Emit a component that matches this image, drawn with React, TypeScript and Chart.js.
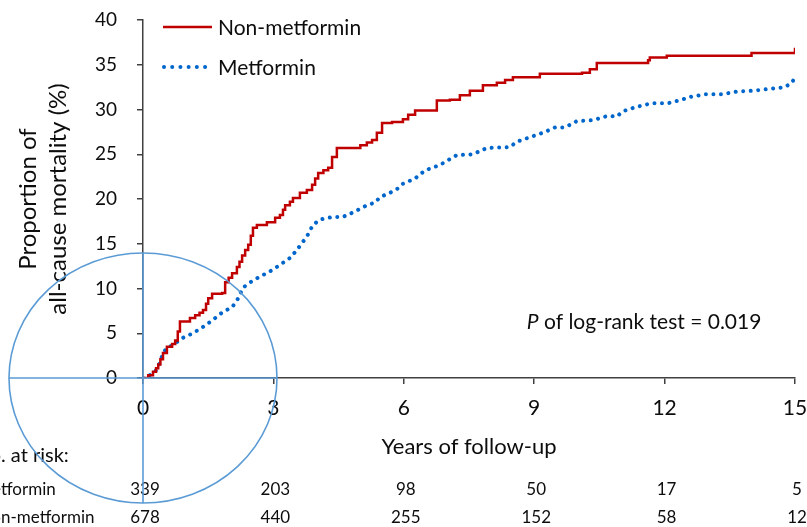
import React, { useEffect, useRef } from 'react';
import { Chart, registerables } from 'chart.js';

Chart.register(...registerables);

// ---- Data ----
const seriesNames = ['Non-metformin', 'Metformin'];

const nonMetT = [0, 0.12, 0.23, 0.3, 0.35, 0.4, 0.46, 0.55, 0.67, 0.74, 0.8, 0.85, 1.08, 1.2, 1.3, 1.38, 1.45, 1.5, 1.59, 1.82, 1.89, 1.97, 2.05, 2.16, 2.22, 2.28, 2.35, 2.42, 2.48, 2.53, 2.62, 2.85, 3.04, 3.15, 3.22, 3.27, 3.38, 3.45, 3.61, 3.77, 3.89, 3.96, 4.03, 4.15, 4.26, 4.35, 4.46, 5.0, 5.15, 5.27, 5.38, 5.5, 5.73, 5.98, 6.1, 6.26, 6.76, 7.06, 7.29, 7.52, 7.82, 8.14, 8.33, 8.51, 9.13, 10.1, 10.28, 10.44, 11.62, 11.66, 12.05, 14.0, 15.0, 15.0];
const nonMetV = [0, 0.3, 0.7, 1.1, 1.5, 2.1, 2.8, 3.5, 3.8, 4.2, 5.2, 6.3, 6.7, 7.0, 7.3, 7.6, 8.3, 8.9, 9.4, 9.5, 10.7, 11.2, 11.7, 12.4, 13.0, 13.7, 14.3, 14.9, 15.9, 16.8, 17.1, 17.4, 17.9, 18.2, 18.8, 19.3, 19.7, 20.1, 20.7, 21.0, 21.6, 22.3, 22.9, 23.2, 23.5, 24.7, 25.7, 26.0, 26.3, 26.6, 27.4, 28.5, 28.6, 28.9, 29.4, 29.9, 31.0, 31.1, 31.6, 32.1, 32.7, 33.0, 33.3, 33.6, 34.0, 34.1, 34.5, 35.2, 35.5, 35.8, 36.0, 36.3, 36.3, 36.9];

const metT = [0, 0.09, 0.28, 0.39, 0.46, 0.55, 0.69, 0.92, 1.15, 1.38, 1.61, 1.84, 2.05, 2.19, 2.3, 2.53, 2.76, 2.99, 3.2, 3.38, 3.54, 3.66, 3.77, 3.91, 4.07, 4.37, 4.6, 4.83, 5.15, 5.34, 5.45, 5.73, 5.87, 5.98, 6.26, 6.49, 6.83, 7.22, 7.59, 7.91, 8.44, 8.6, 8.9, 9.2, 9.48, 9.71, 9.98, 10.35, 10.7, 10.9, 11.04, 11.36, 11.71, 12.08, 12.4, 12.58, 12.93, 13.32, 13.66, 14.03, 14.42, 14.77, 14.93, 15.0];
const metV = [0, 0.1, 0.7, 1.7, 2.8, 3.35, 3.7, 4.5, 5.0, 5.7, 6.5, 7.4, 7.9, 8.9, 10.1, 10.9, 11.5, 12.1, 12.8, 13.4, 14.3, 15.1, 15.8, 17.1, 17.7, 18.0, 18.0, 18.5, 19.3, 19.6, 20.2, 20.8, 21.2, 21.7, 22.3, 23.2, 23.8, 24.9, 25.0, 25.7, 25.8, 26.4, 26.9, 27.4, 28.0, 28.0, 28.7, 28.8, 29.3, 29.2, 29.8, 30.3, 30.7, 30.7, 31.1, 31.4, 31.7, 31.7, 32.0, 32.1, 32.3, 32.5, 33.0, 33.6];

const xTickValues = [0, 3, 6, 9, 12, 15];
const riskLabels = ['Metformin', 'Non-metformin'];
const riskMetformin = [339, 203, 98, 50, 17, 5];
const riskNonMetformin = [678, 440, 255, 152, 58, 12];
const pValueText = ' of log-rank test = 0.019';

const RED = '#c00000';
const BLUE = '#0066cc';
const CIRCLE = '#5b9bd5';
const AXIS = '#404040';
const TEXT = '#0d0d0d';
const FONT = 'Lato';

const overlayPlugin = {
  id: 'overlay',
  afterDraw(chart: any) {
    const { ctx, chartArea } = chart;
    const xs = chart.scales.x;
    const ys = chart.scales.y;
    const x0 = xs.getPixelForValue(0);
    const y0 = ys.getPixelForValue(0);
    ctx.save();

    // Legend (inside plot, top-left)
    const lx = chartArea.left + 20;
    const legendY = [chartArea.top + 7, chartArea.top + 47];
    ctx.font = `21px ${FONT}`;
    ctx.textBaseline = 'middle';
    ctx.textAlign = 'left';
    ctx.strokeStyle = RED;
    ctx.lineWidth = 2.5;
    ctx.setLineDash([]);
    ctx.beginPath();
    ctx.moveTo(lx, legendY[0]);
    ctx.lineTo(lx + 49, legendY[0]);
    ctx.stroke();
    ctx.strokeStyle = BLUE;
    ctx.lineWidth = 4;
    ctx.lineCap = 'round';
    ctx.setLineDash([0.01, 8.2]);
    ctx.beginPath();
    ctx.moveTo(lx + 1, legendY[1]);
    ctx.lineTo(lx + 47, legendY[1]);
    ctx.stroke();
    ctx.setLineDash([]);
    ctx.lineCap = 'butt';
    ctx.fillStyle = TEXT;
    ctx.fillText(seriesNames[0], lx + 55, legendY[0] + 1);
    ctx.fillText(seriesNames[1], lx + 55, legendY[1] + 1);

    // P value text
    const px = xs.getPixelForValue(8.83);
    const py = ys.getPixelForValue(6.2);
    ctx.font = `italic 21px ${FONT}`;
    ctx.fillText('P', px, py);
    const pw = ctx.measureText('P').width;
    ctx.font = `21px ${FONT}`;
    ctx.fillText(pValueText, px + pw, py);

    // Number at risk table
    ctx.font = `20px ${FONT}`;
    const noW = ctx.measureText('No').width;
    ctx.fillText('No. at risk:', -noW + 1, 456);
    ctx.font = `17px ${FONT}`;
    const rowY = [490, 518];
    const meW = ctx.measureText('Me').width;
    const noW2 = ctx.measureText('No').width;
    ctx.fillText(riskLabels[0], -meW + 1, rowY[0]);
    ctx.fillText(riskLabels[1], -noW2 + 1, rowY[1]);
    ctx.textAlign = 'center';
    xTickValues.forEach((t, i) => {
      const tx = xs.getPixelForValue(t) + 2;
      ctx.fillText(String(riskMetformin[i]), tx, rowY[0]);
      ctx.fillText(String(riskNonMetformin[i]), tx, rowY[1]);
    });

    // Blue circle annotation with crosshair
    ctx.strokeStyle = CIRCLE;
    ctx.lineWidth = 1.6;
    ctx.beginPath();
    ctx.ellipse(x0, y0, 134, 125, 0, 0, Math.PI * 2);
    ctx.stroke();
    ctx.beginPath();
    ctx.moveTo(x0 - 134, y0);
    ctx.lineTo(x0 + 134, y0);
    ctx.moveTo(x0, y0 - 125);
    ctx.lineTo(x0, y0 + 125);
    ctx.stroke();

    ctx.restore();
  },
};

export default function App() {
  const ref = useRef<HTMLCanvasElement | null>(null);

  useEffect(() => {
    if (!ref.current) return;
    const chart = new Chart(ref.current, {
      type: 'line',
      data: {
        datasets: [
          {
            label: seriesNames[0],
            data: nonMetT.map((t, i) => ({ x: t, y: nonMetV[i] })),
            borderColor: RED,
            backgroundColor: RED,
            borderWidth: 2.5,
            pointRadius: 0,
            stepped: 'before',
            fill: false,
          },
          {
            label: seriesNames[1],
            data: metT.map((t, i) => ({ x: t, y: metV[i] })),
            borderColor: BLUE,
            backgroundColor: BLUE,
            borderWidth: 4,
            borderDash: [0.01, 7.5],
            borderCapStyle: 'round',
            borderJoinStyle: 'round',
            pointRadius: 0,
            tension: 0,
            fill: false,
          },
        ],
      },
      options: {
        responsive: false,
        animation: false,
        devicePixelRatio: window.devicePixelRatio || 1,
        layout: { padding: { left: 0, right: 12, top: 20, bottom: 0 } },
        plugins: {
          legend: { display: false },
          tooltip: { enabled: false },
        },
        scales: {
          x: {
            type: 'linear',
            min: 0,
            max: 15,
            afterFit: (s: any) => {
              s.height = 149;
              s.paddingLeft = 0;
              s.paddingRight = 0;
            },
            afterBuildTicks: (s: any) => {
              s.ticks = xTickValues.map((v) => ({ value: v }));
            },
            ticks: {
              color: TEXT,
              font: { family: FONT, size: 21 },
              padding: 12,
              maxRotation: 0,
            },
            grid: {
              drawOnChartArea: false,
              drawTicks: true,
              tickLength: 6,
              color: AXIS,
              lineWidth: 1.5,
            },
            border: { display: true, color: AXIS, width: 1.5 },
            title: {
              display: true,
              text: 'Years of follow-up',
              color: TEXT,
              font: { family: FONT, size: 22, lineHeight: 1.2 },
              padding: { top: 0, bottom: 67 },
            },
          },
          y: {
            type: 'linear',
            min: 0,
            max: 40,
            afterFit: (s: any) => {
              s.width = 143;
              s.paddingTop = 0;
              s.paddingBottom = 0;
            },
            ticks: {
              stepSize: 5,
              color: TEXT,
              font: { family: FONT, size: 19 },
              padding: 20,
            },
            grid: {
              drawOnChartArea: false,
              drawTicks: true,
              tickLength: 6,
              color: AXIS,
              lineWidth: 1.5,
            },
            border: { display: true, color: AXIS, width: 1.5 },
            title: {
              display: true,
              text: ['Proportion of', 'all-cause mortality (%)'],
              color: TEXT,
              font: { family: FONT, size: 24, lineHeight: 1.27 },
              padding: { top: 13, bottom: 0 },
            },
          },
        },
      },
      plugins: [overlayPlugin],
    } as any);
    return () => chart.destroy();
  }, []);

  return (
    <div style={{ position: 'absolute', left: 0, top: 0, width: 807, height: 527 }}>
      <canvas ref={ref} width={807} height={527} style={{ width: 807, height: 527, display: 'block' }} />
    </div>
  );
}
